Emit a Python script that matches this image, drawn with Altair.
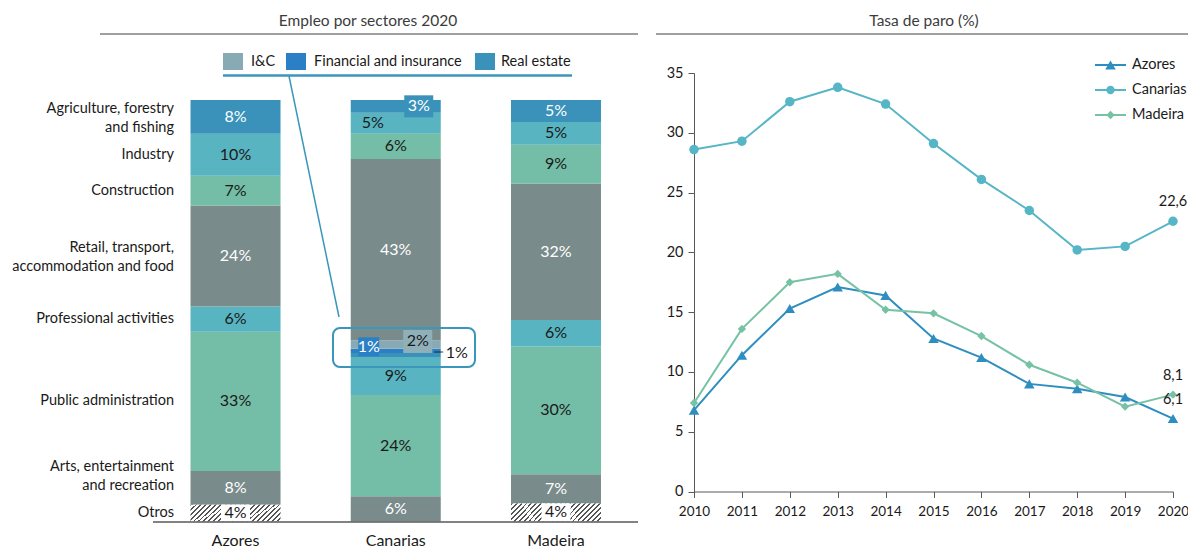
import altair as alt
import pandas as pd

# ---------------- data ----------------
regions = ["Azores", "Canarias", "Madeira"]
# sectors listed from the top of each bar to the bottom
sector_keys = ["Agri", "Industry", "Construction", "Retail", "IC", "Financial",
               "RealEstate", "Professional", "Public", "Arts", "Otros"]
sector_names = ["Agriculture, forestry\nand fishing", "Industry", "Construction",
                "Retail, transport,\naccommodation and food", "I&C",
                "Financial and insurance", "Real estate", "Professional activities",
                "Public administration", "Arts, entertainment\nand recreation", "Otros"]
azores_share = [8, 10, 7, 24, 0, 0, 0, 6, 33, 8, 4]
canarias_share = [3, 5, 6, 43, 2, 1, 1, 9, 24, 6, 0]
madeira_share = [5.2, 5.4, 9.2, 32.4, 0, 0, 0, 6.3, 30.3, 6.9, 4.3]
azores_text = ["8%", "10%", "7%", "24%", "", "", "", "6%", "33%", "8%", "4%"]
canarias_text = ["3%", "5%", "6%", "43%", "2%", "1%", "1%", "9%", "24%", "6%", ""]
madeira_text = ["5%", "5%", "9%", "32%", "", "", "", "6%", "30%", "7%", "4%"]

legend_keys = ["IC", "Financial", "RealEstate"]
legend_names = ["I&C", "Financial and insurance", "Real estate"]

years = [2010, 2011, 2012, 2013, 2014, 2015, 2016, 2017, 2018, 2019, 2020]
series = ["Azores", "Canarias", "Madeira"]
azores_rate = [6.8, 11.4, 15.3, 17.1, 16.4, 12.8, 11.2, 9.0, 8.6, 7.9, 6.1]
canarias_rate = [28.6, 29.3, 32.6, 33.8, 32.4, 29.1, 26.1, 23.5, 20.2, 20.5, 22.6]
madeira_rate = [7.4, 13.6, 17.5, 18.2, 15.2, 14.9, 13.0, 10.6, 9.1, 7.1, 8.1]
y_ticks = [0, 5, 10, 15, 20, 25, 30, 35]

left_title = "Empleo por sectores 2020"
right_title = "Tasa de paro (%)"

# ---------------- style ----------------
FONT = "Lato"
W, H = 1180, 540
OFF = 8


def px(v):
    return v - OFF


FILL = {"Agri": "#3A92BA", "Industry": "#57B4C0", "Construction": "#74BDA6",
        "Retail": "#7A8B8B", "IC": "#88AAB4", "Financial": "#2B80C5",
        "RealEstate": "#3A92BA", "Professional": "#57B4C0", "Public": "#74BDA6",
        "Arts": "#7A8B8B", "Otros": "#FFFFFF"}
TCOL = {"Agri": "white", "Retail": "white", "Arts": "white", "Financial": "white"}
DARK = "#1a1a1a"
ACCENT = "#3A96BB"
series_colors = ["#2E8EC0", "#56B6C5", "#76C2A4"]
series_shapes = ["triangle-up", "circle", "diamond"]
series_sizes = [110, 70, 70]

# hatch pattern for "Otros" built from a striped gradient
hw, hh = 90.0, 17.5
gdx = (hw + hh) / (hw * (1 + (hh / hw) ** 2))
gdy = gdx * hh / hw
stops = []
nstripe = 22
for i in range(nstripe):
    a, b, c = i / nstripe, (i + 0.38) / nstripe, (i + 1) / nstripe
    stops += [{"offset": a, "color": "#555555"}, {"offset": b, "color": "#555555"},
              {"offset": b, "color": "#ffffff"}, {"offset": c, "color": "#ffffff"}]
HATCH = {"gradient": "linear", "x1": 0, "y1": 0, "x2": gdx, "y2": gdy, "stops": stops}

# ---------------- tables ----------------
rows = []
for reg, shares, texts in zip(regions, [azores_share, canarias_share, madeira_share],
                              [azores_text, canarias_text, madeira_text]):
    base = 0.0
    for key, name, v, t in reversed(list(zip(sector_keys, sector_names, shares, texts))):
        if v <= 0:
            continue
        rows.append({"region": reg, "sector": key, "name": name, "y0": base,
                     "y1": base + v, "mid": base + v / 2, "label": t,
                     "fill": FILL[key], "tcol": TCOL.get(key, DARK)})
        base += v
bars = pd.DataFrame(rows)

rates = pd.DataFrame([{"year": y, "series": s, "rate": r}
                      for s, vals in zip(series, [azores_rate, canarias_rate, madeira_rate])
                      for y, r in zip(years, vals)])
rates["label"] = rates["rate"].map(lambda v: f"{v:.1f}".replace(".", ","))

one = pd.DataFrame({"k": [0]})

# ---------------- left panel ----------------
xb = alt.Scale(domain=regions, range=[px(155.4), px(636.1)], paddingInner=0, paddingOuter=0)
yb = alt.Scale(domain=[0, 100], range=[px(521.5), px(100)], nice=False, zero=False)
XB = alt.X("region:N", scale=xb, axis=None)
YB0 = alt.Y("y0:Q", scale=yb, axis=None)
YM = alt.Y("mid:Q", scale=yb, axis=None)

B = alt.Chart(bars)
bars_main = B.transform_filter("datum.sector !== 'Otros'").mark_bar(size=90).encode(
    x=XB, y=YB0, y2="y1:Q", fill=alt.Fill("fill:N", scale=None))
bars_otros = B.transform_filter("datum.sector === 'Otros'").mark_bar(size=90, fill=HATCH).encode(
    x=XB, y=YB0, y2="y1:Q")
otros_box = B.transform_filter("datum.sector === 'Otros'").mark_bar(size=29, color="white").encode(
    x=XB, y=YB0, y2="y1:Q")

SPECIAL = "(datum.region === 'Canarias' && indexof(['Agri','Industry','IC','Financial','RealEstate'], datum.sector) >= 0)"
seg_labels = B.transform_filter(f"datum.label !== '' && !{SPECIAL}").mark_text(fontSize=16).encode(
    x=XB, y=YM, text="label:N", color=alt.Color("tcol:N", scale=None))


def can(sec):
    return B.transform_filter(f"datum.region === 'Canarias' && datum.sector === '{sec}'")


def box_path(w, h):
    r = h / w
    return f"M-1,{-r:.4f}H1V{r:.4f}H-1Z"


box_agri = can("Agri").mark_point(shape=box_path(29, 22), size=29 ** 2, filled=True, opacity=1,
                                  color=FILL["Agri"], xOffset=23).encode(x=XB, y=YM)
txt_agri = can("Agri").mark_text(fontSize=16, color="white", dx=23).encode(x=XB, y=YM, text="label:N")
txt_ind = can("Industry").mark_text(fontSize=16, color=DARK, dx=-23).encode(x=XB, y=YM, text="label:N")
box_ic = can("IC").mark_point(shape=box_path(29, 23), size=29 ** 2, filled=True, opacity=1,
                              color="#8FB0B9", xOffset=22, yOffset=-3).encode(x=XB, y=YM)
txt_ic = can("IC").mark_text(fontSize=16, color=DARK, dx=22, dy=-3).encode(x=XB, y=YM, text="label:N")
box_fin = can("Financial").mark_point(shape=box_path(21, 19), size=21 ** 2, filled=True, opacity=1,
                                      color=FILL["Financial"], xOffset=-27, yOffset=-4).encode(x=XB, y=YM)
txt_fin = can("Financial").mark_text(fontSize=16, color="white", dx=-27, dy=-4).encode(x=XB, y=YM, text="label:N")
txt_re = can("RealEstate").mark_text(fontSize=16, color=DARK, dx=61, dy=-2).encode(x=XB, y=YM, text="label:N")
tick_re = can("RealEstate").mark_point(shape="M-1,0H1", size=81, filled=False, color=DARK, strokeWidth=1.2,
                                       xOffset=43, yOffset=-3).encode(x=XB, y=YM)

SEC = dict(align="right", fontSize=14.5, lineBreak="\n", lineHeight=19.5, color=DARK)
sec_single = B.transform_filter(
    "datum.region === 'Azores' && indexof(['Agri','Retail','Arts'], datum.sector) < 0").mark_text(**SEC).encode(
    x=alt.value(px(174)), y=YM, text="name:N")
sec_double = B.transform_filter(
    "datum.region === 'Azores' && indexof(['Agri','Retail'], datum.sector) >= 0").mark_text(dy=-8, **SEC).encode(
    x=alt.value(px(174)), y=YM, text="name:N")
sec_arts = B.transform_filter("datum.region === 'Azores' && datum.sector === 'Arts'").mark_text(dy=-21, **SEC).encode(
    x=alt.value(px(174)), y=YM, text="name:N")
cat = alt.Chart(pd.DataFrame({"region": regions})).mark_text(fontSize=16, color=DARK).encode(
    x=XB, y=alt.value(px(541)), text="region:N")

left = alt.layer(bars_main, bars_otros, otros_box, seg_labels, box_agri, txt_agri, txt_ind,
                 box_ic, txt_ic, box_fin, txt_fin, txt_re, tick_re, sec_single, sec_double, sec_arts, cat)

# ---------------- right panel ----------------
xl = alt.Scale(domain=[2010, 2020], range=[px(694), px(1173)], nice=False, zero=False)
yl = alt.Scale(domain=[0, 35], range=[px(491.5), px(73)], nice=False, zero=False)
AX = dict(grid=False, title=None, tickSize=6, domainColor="#595959", tickColor="#595959",
          labelColor=DARK, labelFlush=False, labelOverlap=False)
XL = alt.X("year:Q", scale=xl, axis=alt.Axis(values=years, format="d", orient="bottom",
                                               offset=px(491.5) - H, labelPadding=7,
                                               labelFontSize=13.5, **AX))
YL = alt.Y("rate:Q", scale=yl, axis=alt.Axis(values=y_ticks, orient="left", offset=-px(694),
                                               labelPadding=5, labelFontSize=14.5, **AX))
COL = alt.Color("series:N", scale=alt.Scale(domain=series, range=series_colors), legend=None)

R = alt.Chart(rates)
lines = R.mark_line(strokeWidth=2).encode(x=XL, y=YL, color=COL)
pts = R.mark_point(filled=True, opacity=1).encode(
    x=XL, y=YL, color=COL,
    shape=alt.Shape("series:N", scale=alt.Scale(domain=series, range=series_shapes), legend=None),
    size=alt.Size("series:N", scale=alt.Scale(domain=series, range=series_sizes), legend=None))
ends = R.transform_filter("datum.year === 2020").mark_text(dy=-19, fontSize=14.5, color=DARK).encode(
    x=XL, y=YL, text="label:N")
right = alt.layer(lines, pts, ends)

# ---------------- annotations ----------------
O = alt.Chart(one)
ann = [
    O.mark_text(fontSize=15.5, color="#3b3b3b").encode(x=alt.value(px(368)), y=alt.value(px(21)), text=alt.value(left_title)),
    O.mark_text(fontSize=15.5, color="#3b3b3b").encode(x=alt.value(px(924)), y=alt.value(px(21)), text=alt.value(right_title)),
    O.mark_rule(color="#808080", strokeWidth=1.5).encode(x=alt.value(px(100)), x2=alt.value(px(638)), y=alt.value(px(34))),
    O.mark_rule(color="#808080", strokeWidth=1.5).encode(x=alt.value(px(656)), x2=alt.value(px(1196)), y=alt.value(px(34))),
    O.mark_rule(color="#595959", strokeWidth=1.5).encode(x=alt.value(px(153)), x2=alt.value(px(638)), y=alt.value(px(522))),
    O.mark_rule(color=ACCENT, strokeWidth=2.5).encode(x=alt.value(px(223)), x2=alt.value(px(572)), y=alt.value(px(75.5))),
    O.mark_rule(color=ACCENT, strokeWidth=1.5).encode(x=alt.value(px(289)), y=alt.value(px(76)),
                                                      x2=alt.value(px(339)), y2=alt.value(px(317))),
    O.mark_rect(fillOpacity=0, stroke=ACCENT, strokeWidth=2, cornerRadius=7).encode(
        x=alt.value(px(333)), x2=alt.value(px(475)), y=alt.value(px(328)), y2=alt.value(px(367))),
]
sw_left = [223, 286, 475]
tx_left = [251, 314, 501]
for key, name, sx, tx in zip(legend_keys, legend_names, sw_left, tx_left):
    ann.append(O.mark_rect(color=FILL[key]).encode(x=alt.value(px(sx)), x2=alt.value(px(sx + 20)),
                                                   y=alt.value(px(53)), y2=alt.value(px(70))))
    ann.append(O.mark_text(fontSize=14.5, align="left", color=DARK).encode(
        x=alt.value(px(tx)), y=alt.value(px(62)), text=alt.value(name)))
for i, (s, c, shp, sz) in enumerate(zip(series, series_colors, series_shapes, series_sizes)):
    yy = px(65 + 25 * i)
    ann.append(O.mark_rule(color=c, strokeWidth=2).encode(x=alt.value(px(1095)), x2=alt.value(px(1126)), y=alt.value(yy)))
    ann.append(O.mark_point(shape=shp, size=sz, filled=True, opacity=1, color=c).encode(
        x=alt.value(px(1110.5)), y=alt.value(yy)))
    ann.append(O.mark_text(fontSize=14.5, align="left", color=DARK).encode(
        x=alt.value(px(1132)), y=alt.value(yy), text=alt.value(s)))

chart = alt.layer(left, right, *ann).resolve_scale(x="independent", y="independent").properties(
    width=W, height=H, padding=0, autosize=alt.AutoSizeParams(type="none")
).configure(font=FONT).configure_view(strokeWidth=0)

chart.save("out.html", embed_options={"renderer": "svg", "actions": False})
